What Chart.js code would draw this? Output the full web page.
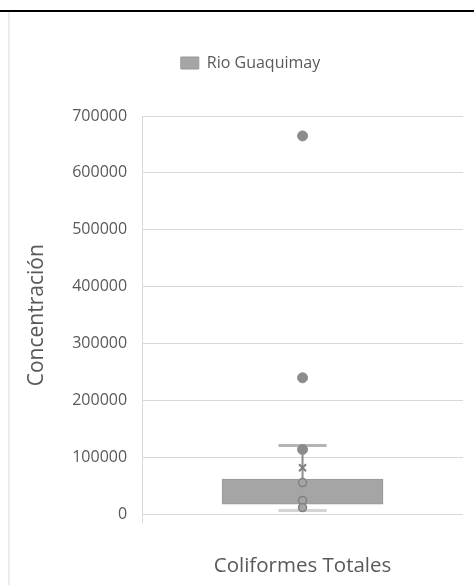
<!DOCTYPE html>
<html>
<head>
<meta charset="utf-8">
<script src="https://cdn.jsdelivr.net/npm/chart.js@4.4.0/dist/chart.umd.min.js"></script>
<style>
  html, body { margin: 0; padding: 0; background: #fff; }
  #frame { position: absolute; left: 0; top: 0; width: 474px; height: 585px; }
  #topline { position: absolute; left: 0; top: 10px; width: 474px; height: 2px; background: #000; }
  #leftline { position: absolute; left: 8px; top: 12px; width: 2px; height: 573px; background: #ececec; }
  #wrap { position: absolute; left: 10px; top: 12px; width: 464px; height: 573px; }
</style>
</head>
<body>
<div id="frame">
  <div id="topline"></div>
  <div id="leftline"></div>
  <div id="wrap"><canvas id="chart"></canvas></div>
</div>
<script>
// values
const categories = ['Coliformes Totales'];
const seriesName = 'Rio Guaquimay';
const boxQ1 = [18000];
const boxQ3 = [62000];
const whiskerLow = [7000];
const whiskerHigh = [121000];
const meanValues = [82000];
const innerPoints = [56000, 24500, 12000];
const outliers = [665000, 240000, 114000];
const yTicks = [0, 100000, 200000, 300000, 400000, 500000, 600000, 700000];

const capHalf = 0.15; // half width of whisker caps, in x-axis units
const textColor = '#595959';
const font = "'Open Sans', sans-serif";

// extra room under the legend, and nudge it right like the original
const legendSpace = {
  id: 'legendSpace',
  beforeInit(chart) {
    const fit = chart.legend.fit;
    chart.legend.fit = function () {
      fit.bind(chart.legend)();
      this.height += 35;
    };
  },
  afterLayout(chart) {
    chart.legend.left += 14;
    chart.legend.right += 14;
  }
};

new Chart(document.getElementById('chart'), {
  data: {
    datasets: [
      {
        type: 'bar',
        label: seriesName,
        data: boxQ1.map((q1, i) => ({ x: 0, y: [q1, boxQ3[i]] })),
        backgroundColor: '#a5a5a5',
        borderColor: '#999999',
        borderWidth: 1,
        borderSkipped: false,
        barThickness: 161,
        order: 5
      },
      {
        type: 'line',
        label: 'upper whisker',
        data: [{ x: 0, y: boxQ3[0] }, { x: 0, y: whiskerHigh[0] }],
        borderColor: '#8c8c8c',
        borderWidth: 2,
        pointRadius: 0,
        order: 4
      },
      {
        type: 'line',
        label: 'upper cap',
        data: [{ x: -capHalf, y: whiskerHigh[0] }, { x: capHalf, y: whiskerHigh[0] }],
        borderColor: '#b4b4b4',
        borderWidth: 3,
        pointRadius: 0,
        order: 4
      },
      {
        type: 'line',
        label: 'lower cap',
        data: [{ x: -capHalf, y: whiskerLow[0] }, { x: capHalf, y: whiskerLow[0] }],
        borderColor: '#d4d4d4',
        borderWidth: 3,
        pointRadius: 0,
        order: 6
      },
      {
        type: 'scatter',
        label: 'inner',
        data: innerPoints.map(v => ({ x: 0, y: v })),
        backgroundColor: '#a5a5a5',
        borderColor: '#808080',
        borderWidth: 1.5,
        pointRadius: 4,
        order: 1
      },
      {
        type: 'scatter',
        label: 'mean',
        data: meanValues.map(v => ({ x: 0, y: v })),
        pointStyle: 'crossRot',
        borderColor: '#808080',
        borderWidth: 2,
        pointRadius: 5,
        order: 1
      },
      {
        type: 'scatter',
        label: 'outliers',
        data: outliers.map(v => ({ x: 0, y: v })),
        backgroundColor: '#8c8c8c',
        borderColor: '#8c8c8c',
        pointRadius: 5,
        order: 1
      }
    ]
  },
  options: {
    responsive: true,
    maintainAspectRatio: false,
    animation: false,
    layout: { padding: { left: 0, right: 11, top: 33, bottom: -23 } },
    plugins: {
      legend: {
        position: 'top',
        labels: {
          filter: item => item.datasetIndex === 0,
          boxWidth: 18,
          boxHeight: 12,
          color: textColor,
          font: { family: font, size: 16 }
        }
      },
      tooltip: { enabled: false }
    },
    scales: {
      x: {
        type: 'linear',
        min: -1,
        max: 1,
        offset: false,
        afterBuildTicks: axis => { axis.ticks = [{ value: -1 }, { value: 0 }]; },
        ticks: {
          callback: v => (v === 0 ? categories[0] : ''),
          color: textColor,
          font: { family: font, size: 20.5 },
          padding: 30,
          maxRotation: 0,
          autoSkip: false
        },
        grid: {
          offset: false,
          drawOnChartArea: false,
          tickLength: 9,
          color: ctx => (ctx.tick && ctx.tick.value === -1 ? '#d9d9d9' : 'rgba(0,0,0,0)')
        },
        border: { display: false }
      },
      y: {
        min: 0,
        max: 700000,
        afterBuildTicks: axis => { axis.ticks = yTicks.map(v => ({ value: v })); },
        ticks: {
          callback: v => String(v),
          color: textColor,
          font: { family: font, size: 16 },
          padding: 15
        },
        grid: { color: '#d9d9d9', drawTicks: false },
        border: { display: true, color: '#d9d9d9' },
        title: {
          display: true,
          text: 'Concentración',
          color: textColor,
          font: { family: font, size: 21 },
          padding: { top: 14, bottom: 8 }
        }
      }
    }
  },
  plugins: [legendSpace]
});
</script>
</body>
</html>
